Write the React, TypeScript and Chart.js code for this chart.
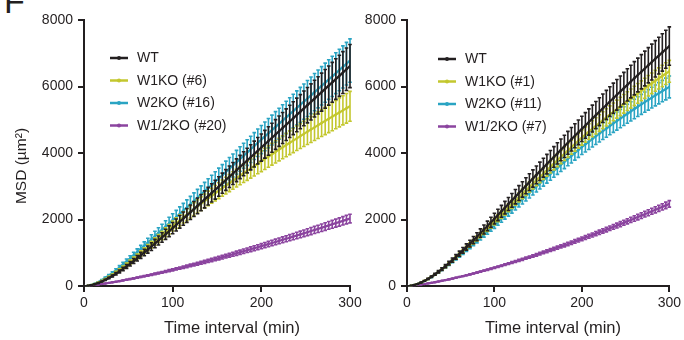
import React, { useEffect, useRef } from "react";
import { Chart, registerables } from "chart.js";

Chart.register(...registerables);

const FONT = '"Liberation Sans", Arial, Helvetica, sans-serif';
const INK = "#231f20";
const C_WT = "#231f20";
const C_W1 = "#c3c72e";
const C_W2 = "#2aa4c3";
const C_W12 = "#8b449f";

// Time interval (min)
const TIME = [
  0, 4, 8, 12, 16, 20, 24, 28, 32, 36, 40, 44, 48, 52, 56, 60, 64, 68, 72, 76,
  80, 84, 88, 92, 96, 100, 104, 108, 112, 116, 120, 124, 128, 132, 136, 140,
  144, 148, 152, 156, 160, 164, 168, 172, 176, 180, 184, 188, 192, 196, 200,
  204, 208, 212, 216, 220, 224, 228, 232, 236, 240, 244, 248, 252, 256, 260,
  264, 268, 272, 276, 280, 284, 288, 292, 296, 300,
];

// ---------- Left panel ----------
const L_WT = [
  0, 6, 24, 52, 88, 132, 183, 240, 302, 368,
  439, 513, 589, 669, 751, 834, 920, 1007, 1096, 1185,
  1276, 1368, 1460, 1553, 1647, 1741, 1836, 1931, 2027, 2122,
  2218, 2315, 2411, 2508, 2605, 2702, 2799, 2896, 2994, 3091,
  3188, 3286, 3384, 3481, 3579, 3677, 3773, 3871, 3969, 4067,
  4165, 4263, 4361, 4459, 4557, 4655, 4753, 4851, 4949, 5047,
  5145, 5243, 5341, 5439, 5537, 5635, 5733, 5831, 5929, 6027,
  6125, 6223, 6321, 6419, 6517, 6615,
];
const L_WT_ERR = [
  0, 1, 2, 5, 9, 13, 18, 24, 30, 36,
  43, 50, 58, 66, 74, 82, 90, 99, 107, 116,
  125, 134, 143, 152, 161, 171, 180, 189, 199, 208,
  217, 227, 236, 246, 255, 265, 274, 284, 293, 303,
  312, 322, 332, 341, 351, 360, 370, 379, 389, 399,
  408, 418, 427, 437, 447, 456, 466, 475, 485, 495,
  504, 514, 523, 533, 543, 552, 562, 571, 581, 591,
  600, 610, 619, 629, 639, 648,
];
const L_W1 = [
  0, 7, 28, 60, 101, 150, 206, 268, 335, 405,
  480, 557, 636, 719, 803, 888, 976, 1064, 1154, 1244,
  1336, 1428, 1520, 1613, 1707, 1801, 1891, 1978, 2064, 2147,
  2230, 2313, 2394, 2475, 2555, 2634, 2712, 2790, 2867, 2944,
  3020, 3096, 3171, 3245, 3319, 3393, 3464, 3537, 3609, 3681,
  3752, 3823, 3894, 3963, 4033, 4102, 4171, 4239, 4307, 4374,
  4442, 4508, 4575, 4641, 4707, 4772, 4837, 4902, 4966, 5030,
  5093, 5156, 5220, 5283, 5344, 5405,
];
const L_W1_ERR = [
  0, 1, 2, 5, 8, 12, 17, 22, 28, 34,
  40, 46, 53, 60, 67, 74, 81, 88, 96, 103,
  111, 119, 126, 134, 142, 149, 157, 164, 171, 178,
  185, 192, 199, 205, 212, 219, 225, 232, 238, 244,
  251, 257, 263, 269, 275, 282, 288, 294, 300, 306,
  311, 317, 323, 329, 335, 340, 346, 352, 357, 363,
  369, 374, 380, 385, 391, 396, 401, 407, 412, 417,
  423, 428, 433, 438, 444, 449,
];
const L_W2 = [
  0, 8, 32, 70, 118, 177, 243, 315, 392, 473,
  559, 648, 739, 832, 926, 1020, 1116, 1212, 1309, 1405,
  1502, 1599, 1695, 1791, 1887, 1981, 2076, 2171, 2267, 2362,
  2458, 2555, 2651, 2748, 2845, 2942, 3039, 3136, 3234, 3331,
  3428, 3526, 3624, 3721, 3819, 3917, 4013, 4111, 4209, 4307,
  4405, 4500, 4595, 4690, 4785, 4880, 4975, 5070, 5165, 5260,
  5355, 5450, 5545, 5640, 5735, 5830, 5925, 6020, 6115, 6210,
  6305, 6400, 6495, 6590, 6685, 6780,
];
const L_W2_ERR = [
  0, 1, 3, 7, 11, 17, 23, 30, 38, 45,
  54, 62, 71, 80, 89, 98, 107, 116, 126, 135,
  144, 154, 163, 172, 181, 190, 199, 208, 218, 227,
  236, 245, 254, 264, 273, 282, 292, 301, 310, 320,
  329, 338, 348, 357, 367, 376, 385, 395, 404, 413,
  423, 432, 441, 450, 459, 468, 478, 487, 496, 505,
  514, 523, 532, 541, 551, 560, 569, 578, 587, 596,
  605, 614, 624, 633, 642, 651,
];
const L_W12 = [
  0, 7, 18, 31, 45, 60, 76, 93, 111, 129,
  148, 167, 187, 208, 229, 251, 272, 295, 318, 341,
  364, 388, 412, 437, 461, 487, 512, 538, 564, 590,
  617, 644, 671, 698, 726, 754, 782, 810, 839, 868,
  897, 926, 955, 985, 1015, 1045, 1075, 1106, 1136, 1167,
  1198, 1230, 1261, 1293, 1324, 1356, 1389, 1421, 1453, 1486,
  1519, 1552, 1585, 1618, 1652, 1686, 1719, 1753, 1787, 1822,
  1856, 1891, 1925, 1960, 1995, 2030,
];
const L_W12_ERR = [
  0, 0.5, 1, 2, 3, 4, 5, 6, 7, 8,
  9.5, 11, 12, 13, 15, 16, 17, 19, 20, 22,
  23, 25, 26, 28, 30, 31, 33, 34, 36, 38,
  40, 41, 43, 45, 46, 48, 50, 52, 54, 56,
  57, 59, 61, 63, 65, 67, 69, 71, 73, 75,
  77, 79, 81, 83, 85, 87, 89, 91, 93, 95,
  97, 99, 101, 104, 106, 108, 110, 112, 114, 117,
  119, 121, 123, 125, 128, 130,
];

// ---------- Right panel ----------
const R_WT = [
  0, 7, 28, 60, 103, 154, 213, 279, 351, 429,
  510, 596, 686, 778, 873, 971, 1070, 1172, 1275, 1379,
  1484, 1591, 1699, 1807, 1916, 2026, 2136, 2246, 2356, 2466,
  2576, 2686, 2796, 2905, 3015, 3124, 3233, 3342, 3450, 3558,
  3666, 3774, 3881, 3988, 4094, 4200, 4306, 4412, 4517, 4621,
  4726, 4829, 4933, 5036, 5140, 5242, 5345, 5446, 5548, 5649,
  5750, 5850, 5950, 6050, 6149, 6248, 6346, 6444, 6542, 6639,
  6736, 6833, 6929, 7025, 7120, 7215,
];
const R_WT_ERR = [
  0, 1, 2, 5, 8, 12, 17, 22, 28, 34,
  41, 48, 55, 62, 70, 78, 86, 94, 102, 110,
  119, 127, 136, 145, 153, 162, 171, 180, 189, 197,
  206, 215, 224, 232, 241, 250, 259, 267, 276, 285,
  293, 302, 311, 319, 328, 336, 345, 353, 361, 370,
  378, 386, 395, 403, 411, 419, 428, 436, 444, 452,
  460, 468, 476, 484, 492, 500, 508, 516, 523, 531,
  539, 547, 554, 562, 570, 577,
];
const R_W1 = [
  0, 7, 28, 60, 102, 153, 211, 276, 346, 422,
  501, 584, 671, 760, 851, 945, 1039, 1136, 1233, 1332,
  1431, 1531, 1631, 1732, 1833, 1934, 2039, 2143, 2247, 2351,
  2455, 2559, 2662, 2765, 2868, 2971, 3073, 3176, 3277, 3378,
  3479, 3580, 3680, 3780, 3879, 3977, 4076, 4175, 4272, 4369,
  4466, 4554, 4642, 4729, 4816, 4901, 4987, 5070, 5154, 5237,
  5319, 5400, 5480, 5560, 5639, 5717, 5794, 5870, 5947, 6022,
  6096, 6170, 6243, 6315, 6387, 6457,
];
const R_W1_ERR = [
  0, 0.4, 1.4, 3, 5, 8, 11, 14, 18, 22,
  26, 30, 34, 39, 43, 48, 53, 58, 63, 68,
  73, 78, 83, 88, 93, 99, 104, 109, 115, 120,
  125, 131, 136, 141, 146, 152, 157, 162, 167, 172,
  177, 183, 188, 193, 198, 203, 208, 213, 218, 223,
  228, 232, 237, 241, 246, 250, 254, 259, 263, 267,
  271, 275, 280, 284, 288, 292, 296, 299, 303, 307,
  311, 315, 318, 322, 326, 329,
];
const R_W2 = [
  0, 7, 28, 59, 101, 151, 208, 272, 341, 414,
  491, 571, 654, 740, 827, 915, 1005, 1096, 1187, 1279,
  1371, 1464, 1557, 1649, 1741, 1833, 1931, 2029, 2127, 2224,
  2321, 2418, 2515, 2610, 2707, 2802, 2897, 2992, 3086, 3180,
  3274, 3367, 3460, 3552, 3643, 3734, 3825, 3915, 4005, 4093,
  4183, 4263, 4344, 4424, 4504, 4582, 4660, 4736, 4812, 4888,
  4962, 5036, 5109, 5181, 5252, 5323, 5393, 5462, 5531, 5598,
  5665, 5732, 5797, 5862, 5925, 5988,
];
const R_W2_ERR = [
  0, 0.4, 1.5, 3, 6, 8, 11, 15, 19, 23,
  27, 31, 36, 41, 45, 50, 55, 60, 65, 70,
  75, 81, 86, 91, 96, 101, 106, 112, 117, 122,
  128, 133, 138, 144, 149, 154, 159, 165, 170, 175,
  180, 185, 190, 195, 200, 205, 210, 215, 220, 225,
  230, 234, 239, 243, 248, 252, 256, 261, 265, 269,
  273, 277, 281, 285, 289, 293, 297, 300, 304, 308,
  312, 315, 319, 322, 326, 329,
];
const R_W12 = [
  0, 7, 17, 30, 45, 60, 78, 96, 115, 135,
  156, 178, 201, 224, 248, 272, 298, 323, 350, 376,
  404, 432, 460, 489, 519, 548, 579, 609, 641, 672,
  704, 736, 769, 802, 836, 869, 904, 938, 973, 1009,
  1044, 1080, 1116, 1153, 1190, 1227, 1264, 1302, 1340, 1379,
  1417, 1456, 1495, 1535, 1575, 1615, 1655, 1696, 1737, 1778,
  1819, 1861, 1903, 1945, 1988, 2030, 2073, 2116, 2160, 2203,
  2247, 2291, 2336, 2380, 2425, 2470,
];
const R_W12_ERR = [
  0, 0.3, 0.7, 1.2, 1.8, 2.4, 3, 4, 5, 5,
  6, 7, 8, 9, 10, 11, 12, 13, 14, 15,
  16, 17, 18, 20, 21, 22, 23, 24, 26, 27,
  28, 29, 31, 32, 33, 35, 36, 38, 39, 40,
  42, 43, 45, 46, 48, 49, 51, 52, 54, 55,
  57, 58, 60, 61, 63, 65, 66, 68, 69, 71,
  73, 74, 76, 78, 80, 81, 83, 85, 86, 88,
  90, 92, 93, 95, 97, 99,
];

const LEFT_LABELS = ["WT", "W1KO (#6)", "W2KO (#16)", "W1/2KO (#20)"];
const RIGHT_LABELS = ["WT", "W1KO (#1)", "W2KO (#11)", "W1/2KO (#7)"];
const X_TICKS = [0, 100, 200, 300];
const Y_TICKS = [0, 2000, 4000, 6000, 8000];
const X_TITLE = "Time interval (min)";
const Y_TITLE = "MSD (µm²)";

type Series = { label: string; color: string; values: number[]; errors: number[] };

const errorBarPlugin = {
  id: "errorBars",
  beforeDatasetDraw(chart: any, args: any) {
    const ds = chart.data.datasets[args.index];
    const errs: number[] | undefined = ds.errors;
    if (!errs) return;
    const xs = chart.scales.x;
    const ys = chart.scales.y;
    const ctx = chart.ctx as CanvasRenderingContext2D;
    ctx.save();
    ctx.strokeStyle = ds.borderColor;
    ctx.lineWidth = 1.6;
    ctx.beginPath();
    ds.data.forEach((p: any, i: number) => {
      const e = errs[i];
      if (!e) return;
      const x = xs.getPixelForValue(p.x);
      const yt = ys.getPixelForValue(p.y + e);
      const yb = ys.getPixelForValue(p.y - e);
      ctx.moveTo(x, yt);
      ctx.lineTo(x, yb);
      ctx.moveTo(x - 1.8, yt);
      ctx.lineTo(x + 1.8, yt);
      ctx.moveTo(x - 1.8, yb);
      ctx.lineTo(x + 1.8, yb);
    });
    ctx.stroke();
    ctx.restore();
  },
};

const legendPlugin = {
  id: "panelLegend",
  afterDraw(chart: any) {
    const o = chart.options.plugins.panelLegend;
    if (!o) return;
    const ctx = chart.ctx as CanvasRenderingContext2D;
    ctx.save();
    chart.data.datasets.forEach((ds: any, i: number) => {
      const cy = o.y + i * o.gap;
      ctx.strokeStyle = ds.borderColor;
      ctx.lineWidth = 2.5;
      ctx.beginPath();
      ctx.moveTo(o.x, cy);
      ctx.lineTo(o.x + 18, cy);
      ctx.stroke();
      ctx.fillStyle = ds.borderColor;
      ctx.beginPath();
      ctx.arc(o.x + 9, cy, 2, 0, Math.PI * 2);
      ctx.fill();
      ctx.fillStyle = INK;
      ctx.font = `14px ${FONT}`;
      ctx.textAlign = "left";
      ctx.textBaseline = "middle";
      ctx.fillText(ds.label, o.x + 27, cy + 0.5);
    });
    ctx.restore();
  },
};

const titlePlugin = {
  id: "axisTitles",
  afterDraw(chart: any) {
    const o = chart.options.plugins.axisTitles;
    if (!o) return;
    const ctx = chart.ctx as CanvasRenderingContext2D;
    ctx.save();
    ctx.fillStyle = INK;
    ctx.textAlign = "center";
    ctx.textBaseline = "middle";
    if (o.x) {
      ctx.font = `16.5px ${FONT}`;
      ctx.fillText(o.x.text, o.x.cx, o.x.cy);
    }
    if (o.y) {
      ctx.font = `15.5px ${FONT}`;
      ctx.translate(o.y.cx, o.y.cy);
      ctx.rotate(-Math.PI / 2);
      ctx.fillText(o.y.text, 0, 0);
    }
    ctx.restore();
  },
};

type PanelProps = {
  series: Series[];
  left: number;
  width: number;
  yAxisWidth: number;
  padRight: number;
  legendX: number;
  legendY: number;
  xTitleX: number;
  yTitle?: { cx: number; cy: number };
};

function Panel(props: PanelProps) {
  const ref = useRef<HTMLCanvasElement>(null);
  useEffect(() => {
    const axisCommon = {
      grid: {
        display: true,
        drawOnChartArea: false,
        drawTicks: true,
        tickLength: 6,
        color: INK,
        lineWidth: 2,
      },
      border: { display: true, color: INK, width: 2 },
    };
    const chart = new Chart(ref.current as HTMLCanvasElement, {
      type: "line",
      data: {
        datasets: props.series.map((s) => ({
          label: s.label,
          data: TIME.map((t, i) => ({ x: t, y: s.values[i] })),
          errors: s.errors,
          borderColor: s.color,
          backgroundColor: s.color,
          borderWidth: 2.2,
          pointRadius: 1.2,
          pointBorderWidth: 0,
          pointHoverRadius: 0,
          tension: 0,
          fill: false,
        })) as any,
      },
      options: {
        responsive: false,
        animation: false,
        devicePixelRatio: 1,
        events: [],
        layout: { padding: { top: 20, right: props.padRight, left: 0, bottom: 0 } },
        plugins: {
          legend: { display: false },
          tooltip: { enabled: false },
          panelLegend: { x: props.legendX, y: props.legendY, gap: 22.5 },
          axisTitles: {
            x: { text: X_TITLE, cx: props.xTitleX, cy: 328 },
            y: props.yTitle ? { text: Y_TITLE, cx: props.yTitle.cx, cy: props.yTitle.cy } : null,
          },
        } as any,
        scales: {
          x: {
            type: "linear",
            min: 0,
            max: 300,
            afterFit: (s: any) => {
              s.height = 54;
            },
            afterBuildTicks: (s: any) => {
              s.ticks = X_TICKS.map((v) => ({ value: v }));
            },
            ticks: {
              padding: 3,
              color: INK,
              maxRotation: 0,
              font: { family: FONT, size: 14 },
              callback: (v: any) => String(v),
            },
            ...axisCommon,
          },
          y: {
            type: "linear",
            min: 0,
            max: 8000,
            afterFit: (s: any) => {
              s.width = props.yAxisWidth;
            },
            afterBuildTicks: (s: any) => {
              s.ticks = Y_TICKS.map((v) => ({ value: v }));
            },
            ticks: {
              padding: 5,
              color: INK,
              font: { family: FONT, size: 14 },
              callback: (v: any) => String(v),
            },
            ...axisCommon,
          },
        } as any,
      },
      plugins: [errorBarPlugin, legendPlugin, titlePlugin],
    });
    return () => chart.destroy();
  }, []);
  return (
    <canvas
      ref={ref}
      width={props.width}
      height={340}
      style={{ position: "absolute", left: props.left, top: 0, width: props.width, height: 340 }}
    />
  );
}

const leftSeries: Series[] = [
  { label: LEFT_LABELS[0], color: C_WT, values: L_WT, errors: L_WT_ERR },
  { label: LEFT_LABELS[1], color: C_W1, values: L_W1, errors: L_W1_ERR },
  { label: LEFT_LABELS[2], color: C_W2, values: L_W2, errors: L_W2_ERR },
  { label: LEFT_LABELS[3], color: C_W12, values: L_W12, errors: L_W12_ERR },
];
const rightSeries: Series[] = [
  { label: RIGHT_LABELS[0], color: C_WT, values: R_WT, errors: R_WT_ERR },
  { label: RIGHT_LABELS[1], color: C_W1, values: R_W1, errors: R_W1_ERR },
  { label: RIGHT_LABELS[2], color: C_W2, values: R_W2, errors: R_W2_ERR },
  { label: RIGHT_LABELS[3], color: C_W12, values: R_W12, errors: R_W12_ERR },
];

export default function App() {
  return (
    <div
      style={{
        position: "absolute",
        left: 0,
        top: 0,
        width: 684,
        height: 340,
        overflow: "hidden",
        background: "#fff",
      }}
    >
      <div
        style={{
          position: "absolute",
          left: 4,
          top: -16,
          fontFamily: FONT,
          fontSize: 34,
          lineHeight: "34px",
          color: INK,
        }}
      >
        F
      </div>
      <Panel
        series={leftSeries}
        left={0}
        width={372}
        yAxisWidth={84}
        padRight={22}
        legendX={110}
        legendY={58}
        xTitleX={232}
        yTitle={{ cx: 21.5, cy: 166 }}
      />
      <Panel
        series={rightSeries}
        left={352}
        width={332}
        yAxisWidth={55}
        padRight={11}
        legendX={86}
        legendY={59}
        xTitleX={201}
      />
    </div>
  );
}
